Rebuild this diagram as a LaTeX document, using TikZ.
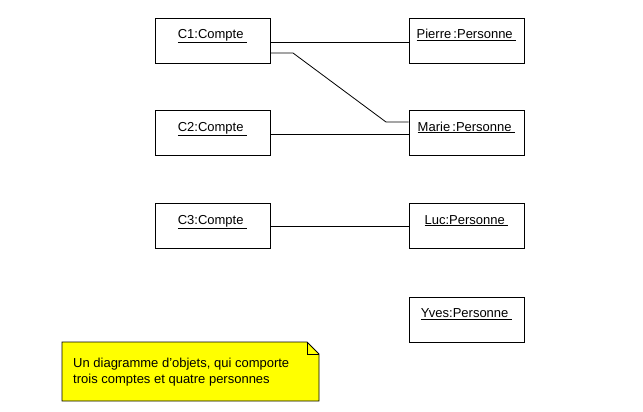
\documentclass[tikz,border=0pt]{standalone}
\usepackage{fontspec}
\setmainfont{Liberation Sans}
\begin{document}
\begin{tikzpicture}[x=1pt,y=1pt,
  objbox/.style={draw=black,line width=0.8pt,minimum width=115pt,minimum height=45pt,inner sep=0pt},
  objlabel/.style={font=\fontsize{13}{15}\selectfont,inner sep=0pt,anchor=base},
  link/.style={draw=black,line width=0.8pt}]
\useasboundingbox (0,0) rectangle (643,-412);
% boxes
\node[objbox] (c1) at (212.5,-40.5) {};
\node[objbox] (c2) at (212.5,-133) {};
\node[objbox] (c3) at (212.5,-226) {};
\node[objbox] (pierre) at (466.5,-40.5) {};
\node[objbox] (marie) at (466.5,-133) {};
\node[objbox] (luc) at (466.5,-226) {};
\node[objbox] (yves) at (466.5,-319.5) {};
% labels
\node[objlabel] (lc1) at ([yshift=-21pt]c1.north) {\underline{C1:Compte\ }};
\node[objlabel] (lc2) at ([yshift=-21pt]c2.north) {\underline{C2:Compte\ }};
\node[objlabel] (lc3) at ([yshift=-21pt]c3.north) {\underline{C3:Compte\ }};
\node[objlabel] (lpierre) at ([yshift=-21pt]pierre.north) {\underline{Pierre\,:Personne\ }};
\node[objlabel] (lmarie) at ([yshift=-21pt]marie.north) {\underline{Marie\,:Personne\ }};
\node[objlabel] (lluc) at ([yshift=-21pt]luc.north) {\underline{Luc:Personne\ }};
\node[objlabel] (lyves) at ([yshift=-21pt]yves.north) {\underline{Yves:Personne\ }};
% links
\coordinate (p1) at (300,-42);
\draw[link] (c1.east |- p1) -- (pierre.west |- p1);
\coordinate (b1) at (293,-53);
\coordinate (b2) at (386,-122);
\draw[link] (c1.east |- b1) -- (b1) -- (b2) -- (marie.west |- b2);
\coordinate (p2) at (300,-134);
\draw[link] (c2.east |- p2) -- (marie.west |- p2);
\coordinate (p3) at (300,-226);
\draw[link] (c3.east |- p3) -- (luc.west |- p3);
% note
\draw[line width=0.8pt,fill={rgb,255:red,255;green,255;blue,0}]
  (62,-342) -- (307,-342) -- (319,-354) -- (319,-401) -- (62,-401) -- cycle;
\draw[line width=0.8pt] (307,-342) -- (307,-354) -- (319,-354);
\node[anchor=base west,inner sep=0pt,font=\fontsize{13}{15}\selectfont] (note1) at (73,-367)
  {Un diagramme d’objets, qui comporte};
\node[anchor=base west,inner sep=0pt,font=\fontsize{13}{15}\selectfont] (note2) at (73,-383)
  {trois comptes et quatre personnes};
\end{tikzpicture}
\end{document}
